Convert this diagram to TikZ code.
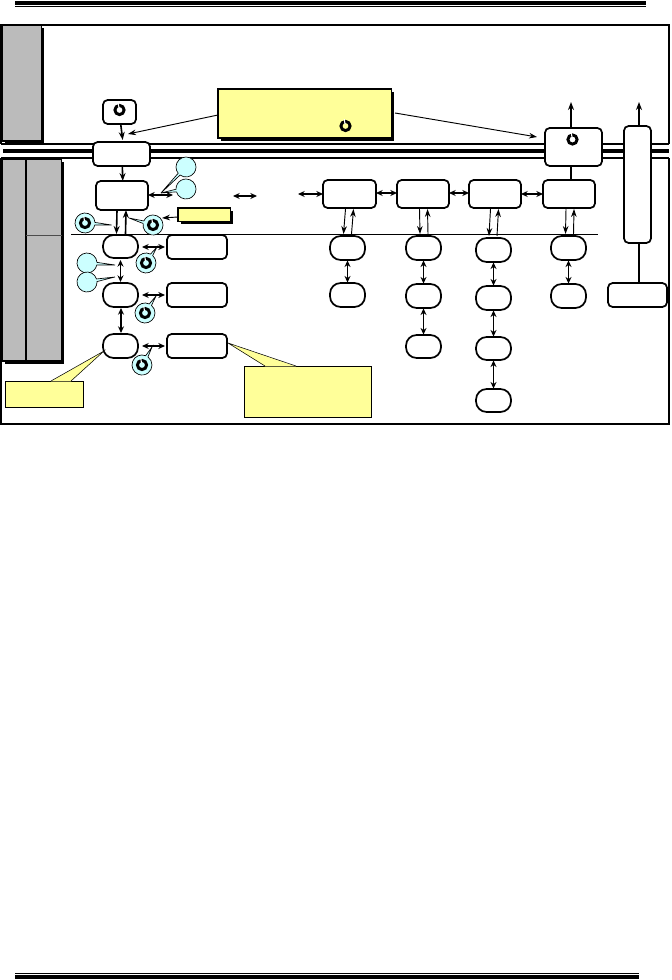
\documentclass[tikz,border=0pt]{standalone}
\usetikzlibrary{arrows.meta,shapes.callouts,shadows}
\definecolor{noteyellow}{HTML}{FFFF99}
\definecolor{bubblecyan}{HTML}{CCFFFF}
\definecolor{panelgrey}{HTML}{BBBBBB}
\newcommand\bx[6]{%
  \pgfmathsetmacro\bxw{(#4-#2)*.75}\pgfmathsetmacro\bxh{(#5-#3)*.75}%
  \node[#6,minimum width=\bxw pt,minimum height=\bxh pt] (#1) at ({(#2+#4)/2},{(#3+#5)/2}) {};}
\tikzset{
  x=.75pt,y=-.75pt,
  basebox/.style={draw,inner sep=0pt,outer sep=0pt},
  roundbox/.style={basebox,fill=white,line width=1.3pt,rounded corners=3.5pt},
  ovalbox/.style={basebox,fill=white,line width=1.3pt,rounded corners=8pt},
  hardshadow/.style={drop shadow={fill=black,opacity=1,shadow xshift=2.2pt,shadow yshift=-2.2pt}},
  greypanel/.style={basebox,fill=panelgrey,line width=1pt,hardshadow},
  notebox/.style={basebox,fill=noteyellow,line width=.9pt,hardshadow},
  plainnote/.style={basebox,fill=noteyellow,line width=.7pt},
  bubble/.style={ellipse callout,draw,fill=bubblecyan,line width=.5pt,inner sep=0pt,outer sep=0pt,
    minimum width=15pt,minimum height=15pt,callout pointer width=3pt},
  thinrule/.style={line width=.8pt},
  barrule/.style={line width=3pt},
  conn/.style={line width=.7pt,-{Stealth[length=6pt,width=4.2pt]}},
  flow/.style={line width=1.2pt,-{Stealth[length=6pt,width=4.5pt]}},
  bothway/.style={line width=1.3pt,{Stealth[length=5pt,width=4.5pt]}-{Stealth[length=5pt,width=4.5pt]}},
  link/.style={line width=1.2pt},
  clk/.pic={
    \draw[line width=2.2pt] (0,0) circle (4.6);
    \draw[white,line width=.8pt] (-.5,-2) -- (-1.2,-6.8);
  },
}
\begin{document}
\begin{tikzpicture}
\useasboundingbox (0,0) rectangle (671,980);
% page rules
\fill (15,1) rectangle (646,5);
\draw[line width=.7pt] (15,6.3) -- (646,6.3);
\fill (15,975) rectangle (639,979);
\draw[line width=.7pt] (15,973.2) -- (639,973.2);
% frame
\draw[thinrule] (1,144) -- (1,25) -- (669,25) -- (669,144);
\draw[thinrule] (1,158) -- (1,424) -- (669,424) -- (669,158);
\draw[thinrule] (1,144) -- (669,144);
\draw[thinrule] (1,158) -- (669,158);
\draw[barrule] (3,151.5) -- (669,151.5);
\draw[line width=.7pt] (71,234) -- (598,234);
% grey panels
\bx{gA}{2}{25}{41.5}{141}{greypanel}
\bx{gB}{2}{159}{26}{361}{greypanel}
\bx{gC}{26}{159}{61.5}{361}{greypanel}
\draw[line width=.4pt,black!70] (gC.west |- 0,235) -- (gC.east |- 0,235);
% main boxes
\bx{src}{103}{100}{136}{124}{roundbox}
\bx{bA}{93}{142}{150}{166}{roundbox}
\bx{bB}{96}{181}{148}{210}{roundbox}
\bx{oA}{103}{235}{138}{258}{ovalbox}
\bx{oB}{103}{283}{138}{307}{ovalbox}
\bx{oC}{103}{334}{138}{358}{ovalbox}
\bx{rA}{167}{235}{227}{259}{roundbox}
\bx{rB}{167}{283}{227}{307}{roundbox}
\bx{rC}{167}{334}{227}{358}{roundbox}
% yellow notes
\bx{noteTop}{218}{89}{391.5}{138}{notebox}
\bx{noteSmall}{178}{208}{230.5}{221.5}{notebox}
\bx{noteL}{5}{381}{83}{407}{plainnote}
\bx{noteR}{244}{366}{371}{417}{plainnote}
\coordinate (noteLtip) at (104,351);
\coordinate (noteRtip) at (228,343);
\fill[noteyellow] (51,381.3) -- (noteLtip) -- (71,381.3) -- cycle;
\draw[line width=.4pt] (51,381) -- (noteLtip) -- (71,381);
\fill[noteyellow] (265,366.3) -- (noteRtip) -- (296,366.3) -- cycle;
\draw[line width=.4pt] (265,366) -- (noteRtip) -- (296,366);
% columns
\bx{cA}{323}{180}{376}{208}{roundbox}
\bx{cB}{397}{180}{449}{208}{roundbox}
\bx{cC}{469}{180}{521}{208}{roundbox}
\bx{cD}{543}{180}{595}{208}{roundbox}
\bx{aA}{330}{236}{365}{260}{ovalbox}
\bx{aB}{330}{283}{365}{307}{ovalbox}
\bx{dA}{406}{236}{441}{260}{ovalbox}
\bx{dB}{406}{284}{441}{308}{ovalbox}
\bx{dC}{406}{335}{441}{358}{ovalbox}
\bx{eA}{476}{238}{511}{262}{ovalbox}
\bx{eB}{476}{286}{511}{310}{ovalbox}
\bx{eC}{476}{337}{511}{360}{ovalbox}
\bx{eD}{476}{389}{511}{412}{ovalbox}
\bx{fA}{551}{236}{586}{260}{ovalbox}
\bx{fB}{551}{284}{586}{308}{ovalbox}
% right side
\bx{hub}{545}{128}{602}{166}{roundbox}
\bx{tall}{624}{126}{651}{243}{roundbox}
\bx{foot}{608}{283}{667}{307}{roundbox}
\coordinate (hubOut) at (571,102);
\coordinate (tallOut) at (639,102);
\draw[flow] (hub.north -| hubOut) -- (hubOut);
\draw[flow] (tall.north -| tallOut) -- (tallOut);
\draw[link] (hub.south -| hubOut) -- (cD.north -| hubOut);
\draw[link] (tall.south -| tallOut) -- (foot.north -| tallOut);
% note arrows
\coordinate (noteToA) at (128,134);
\coordinate (noteToHub) at (537,137);
\draw[conn] (noteTop.west |- 0,115) -- (noteToA);
\draw[conn] (395,113) -- (noteToHub);
\draw[conn] (noteSmall.west |- 0,217) -- (162,218);
% main flow
\draw[flow] ([xshift=.9pt]src.south) -- ([shift={(1.2,-2)}]bA.north);
\draw[flow] ([xshift=.6pt]bA.south) -- ([xshift=.6pt]bB.north);
\draw[flow] ([shift={(-5,0)}]bB.south) -- ([shift={(-4,-1)}]oA.north);
\draw[flow] ([shift={(5,-1)}]oA.north) -- ([shift={(4,0)}]bB.south);
\draw[bothway] ([shift={(0,2)}]oA.south) -- ([shift={(0,-1)}]oB.north);
\draw[bothway] ([shift={(.5,1)}]oB.south) -- ([shift={(.5,-1)}]oC.north);
% horizontal double arrows
\coordinate (bBout) at (173,195);
\draw[bothway] (bB.east |- bBout) -- (bBout);
\draw[bothway] ([shift={(4,0)}]oA.east |- rA.west) -- ([shift={(-2,0)}]rA.west);
\draw[bothway] ([shift={(4,0)}]oB.east |- rB.west) -- ([shift={(-2,0)}]rB.west);
\draw[bothway] ([shift={(4,0)}]oC.east |- rC.west) -- ([shift={(-2,0)}]rC.west);
\coordinate (midA) at (233,196); \coordinate (midB) at (257,196);
\coordinate (midC) at (298,194);
\draw[bothway] (midA) -- (midB);
\draw[bothway] (midC) -- (cA.west |- midC);
\draw[bothway] (cA.east |- 0,193) -- (cB.west |- 0,193);
\draw[bothway] (cB.east |- 0,193) -- (cC.west |- 0,193);
\draw[bothway] (cC.east |- 0,194) -- (cD.west |- 0,194);
% column links
\foreach \t/\u/\sh in {cA/aA/-4,cB/dA/-3.5,cC/eA/-4.5,cD/fA/-3}{
  \draw[conn] ([shift={(\sh,1)}]\t.south) -- ([shift={(\sh,-2)}]\u.north);
  \draw[conn] ([shift={(\sh+8,-2)}]\u.north) -- ([shift={(\sh+8,1)}]\t.south);
}
\foreach \t/\u in {aA/aB,dA/dB,dB/dC,eA/eB,eB/eC,eC/eD,fA/fB}{
  \draw[bothway] ([yshift=-.3pt]\t.south) -- ([yshift=.3pt]\u.north);
}
% bubbles
\node[bubble,callout absolute pointer={(161,193)}] (pA) at (186,167) {};
\node[bubble,callout absolute pointer={(161,193)}] (pB) at (186,189) {};
\node[bubble,callout absolute pointer={(115,265)}] (pC) at (87,263) {};
\node[bubble,callout absolute pointer={(115,277)}] (pD) at (87,282) {};
\node[bubble,callout absolute pointer={(111.5,225)}] (kA) at (85,223) {};
\node[bubble,callout absolute pointer={(129,218)}] (kB) at (153,225) {};
\node[bubble,callout absolute pointer={(157,247)}] (kC) at (146,263) {};
\node[bubble,callout absolute pointer={(156,296)}] (kD) at (145,313) {};
\node[bubble,callout absolute pointer={(152,347)}] (kE) at (142,365) {};
% clock icons
\foreach \p in {(119.5,110),(345.5,126),(572.5,139.5),(85,223),(153,225),(146,263),(145,313),(142,365)}{
  \pic at \p {clk};
}
\end{tikzpicture}
\end{document}
